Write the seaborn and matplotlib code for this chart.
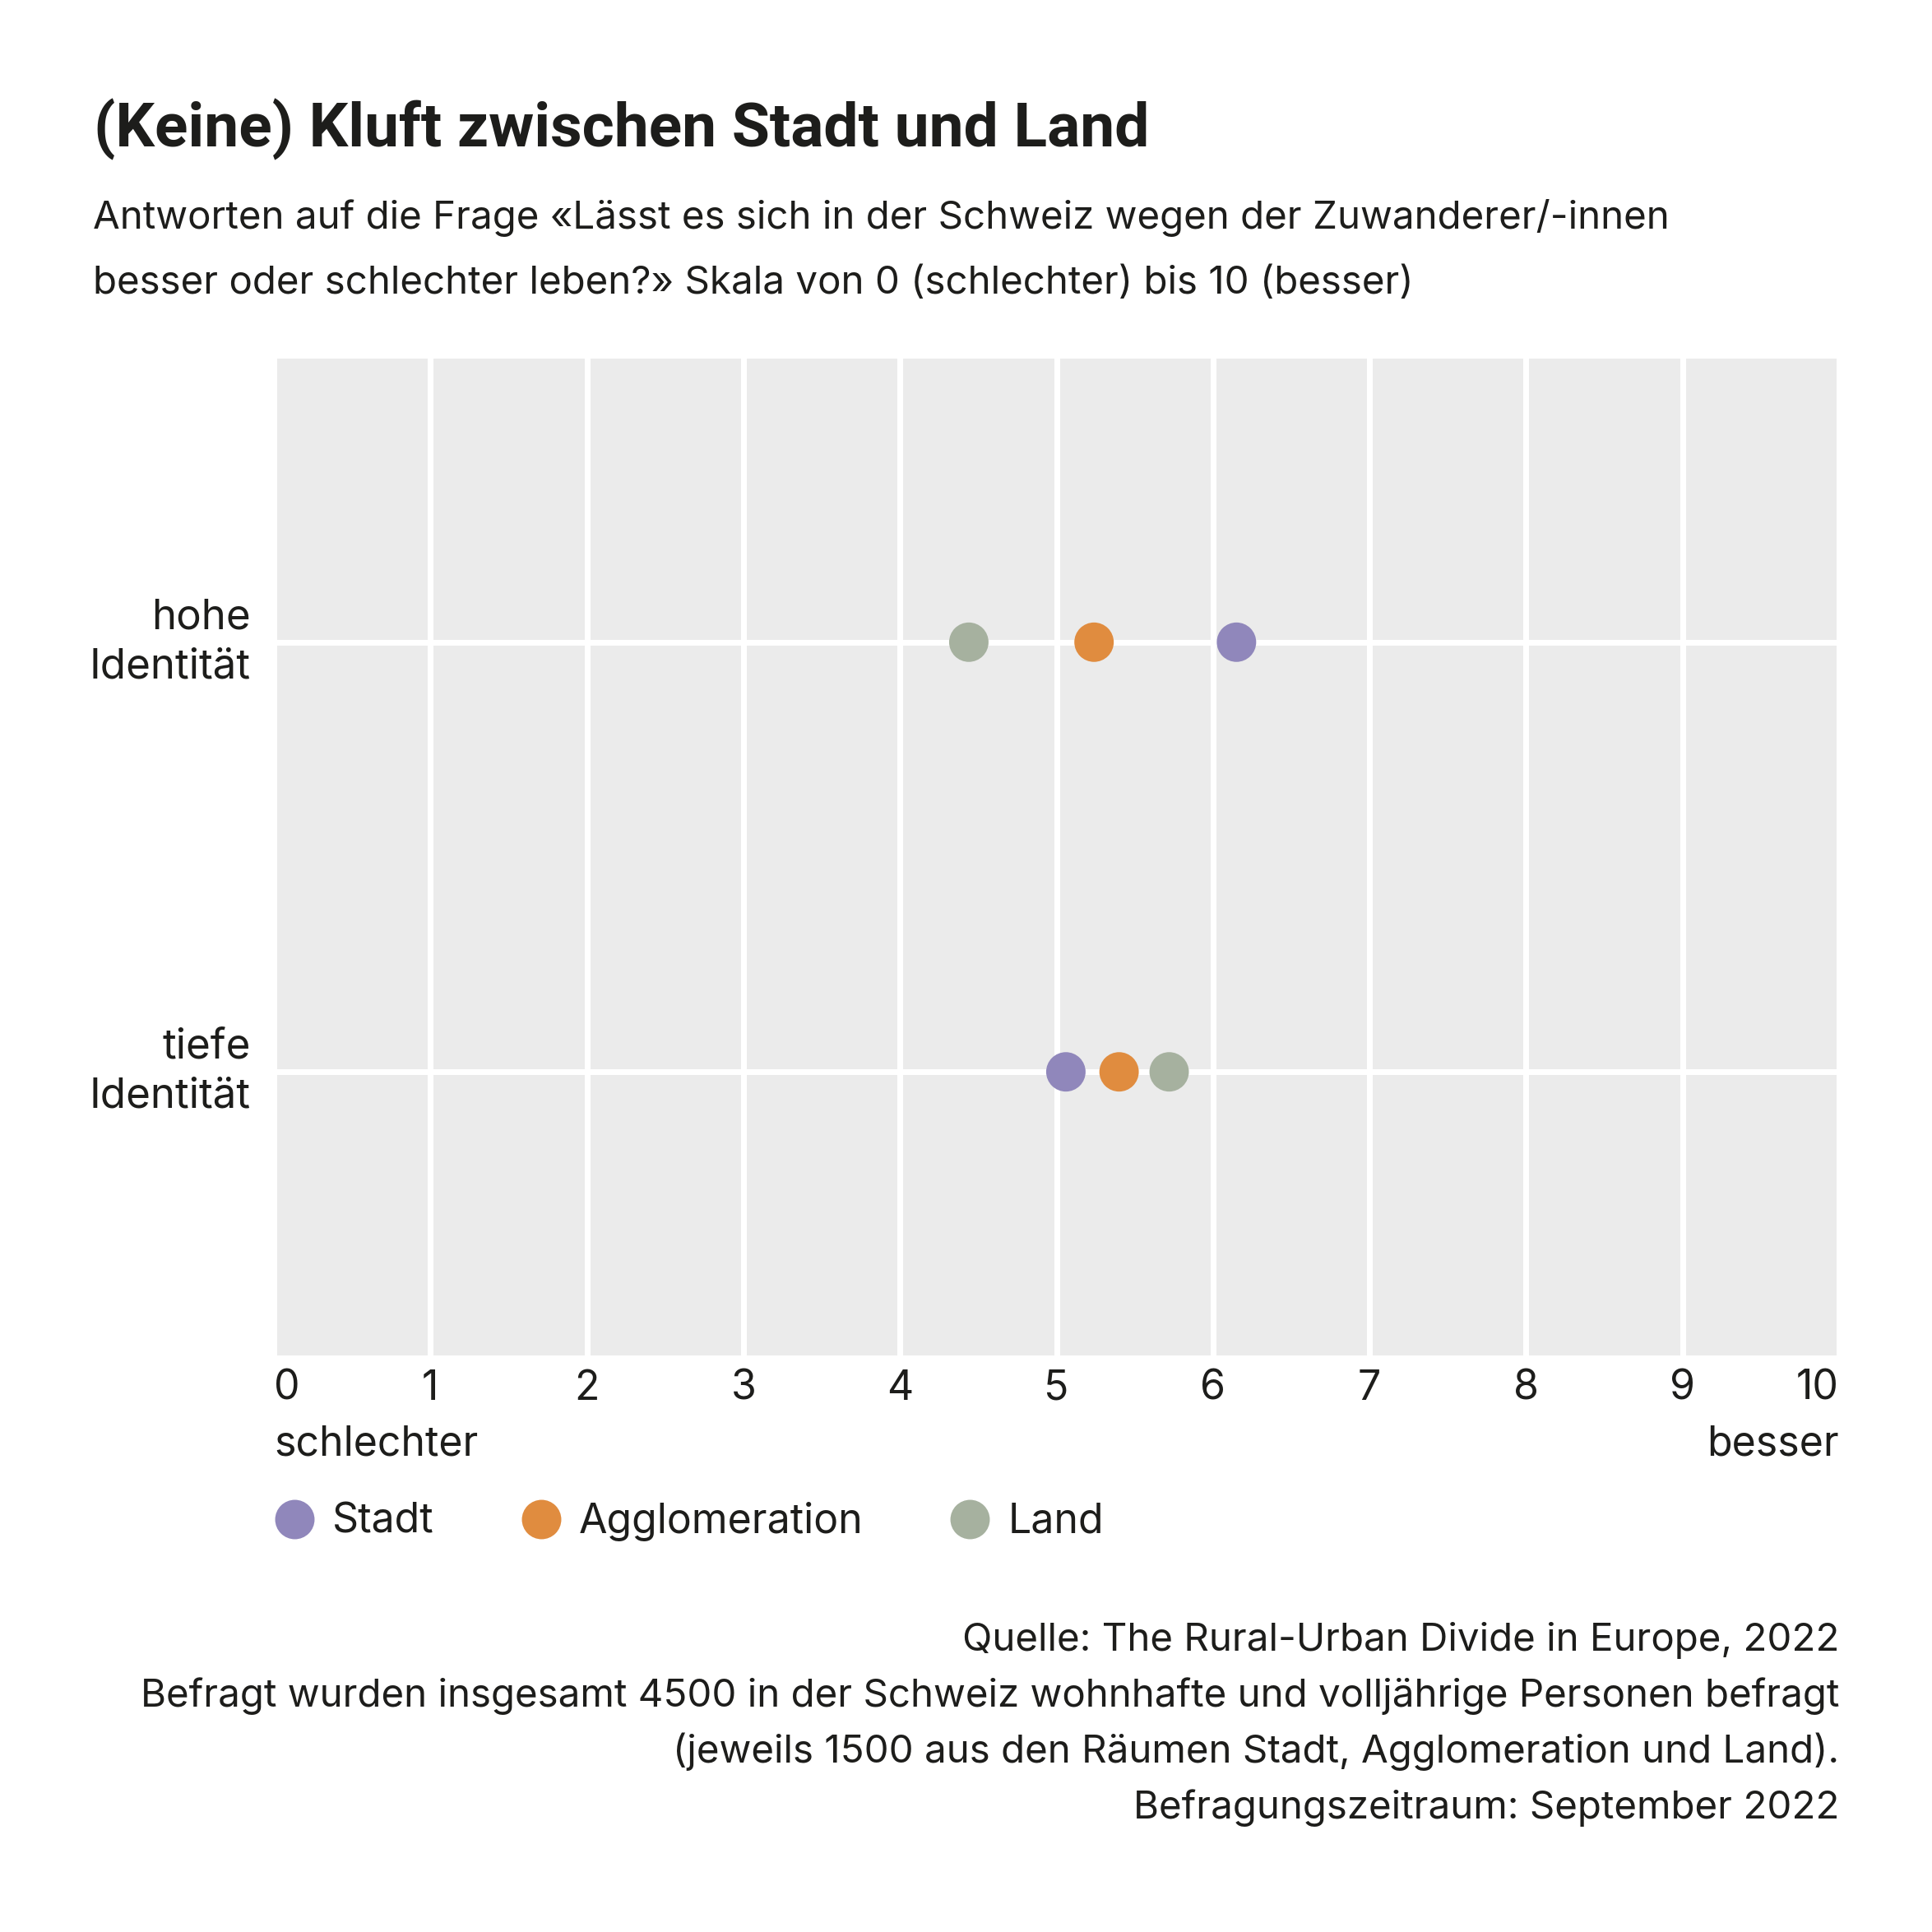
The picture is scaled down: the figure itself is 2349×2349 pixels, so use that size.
import matplotlib.pyplot as plt
import matplotlib.lines as mlines
import matplotlib.transforms as mtransforms
import pandas as pd
import seaborn as sns

# values (scale 0 = schlechter ... 10 = besser)
identity = ['hohe\nIdentität', 'tiefe\nIdentität']
regions = ['Stadt', 'Agglomeration', 'Land']
stadt = [6.15, 5.06]
agglo = [5.24, 5.40]
land = [4.44, 5.72]
colors = ['#9087BB', '#E08C3F', '#A6B19F']
x_ticks = list(range(0, 11))

title = '(Keine) Kluft zwischen Stadt und Land'
subtitle = ['Antworten auf die Frage «Lässt es sich in der Schweiz wegen der Zuwanderer/-innen',
            'besser oder schlechter leben?» Skala von 0 (schlechter) bis 10 (besser)']
footer = ['Quelle: The Rural-Urban Divide in Europe, 2022',
          'Befragt wurden insgesamt 4500 in der Schweiz wohnhafte und volljährige Personen befragt',
          '(jeweils 1500 aus den Räumen Stadt, Agglomeration und Land).',
          'Befragungszeitraum: September 2022']

df = pd.DataFrame({
    'identity': identity * 3,
    'region': [r for r in regions for _ in identity],
    'value': stadt + agglo + land,
})

sns.set_style('darkgrid', {'axes.facecolor': '#EBEBEB', 'grid.color': 'white'})
plt.rcParams['font.family'] = ['Inter', 'DejaVu Sans']
txt = '#1d1d1b'
W = 2349
L, R, T, B = 333, 2236, 436, 1648   # plot box in pixels

fig = plt.figure(figsize=(W / 150, W / 150), dpi=150)
fig.patch.set_facecolor('white')
ax = fig.add_axes([L / W, 1 - B / W, (R - L) / W, (B - T) / W])

sns.stripplot(data=df, x='value', y='identity', hue='region',
              order=identity, hue_order=regions, palette=colors,
              jitter=False, size=23, linewidth=0, ax=ax, legend=False, zorder=3)

ax.set_xlim(0, 10)
ax.set_ylim(1.66, -0.66)
ax.set_xticks(x_ticks)
ax.set_xticklabels([str(t) for t in x_ticks])
ax.grid(True, color='white', linewidth=3.4)
ax.set_axisbelow(True)
for s in ax.spines.values():
    s.set_visible(False)
ax.set_xlabel('')
ax.set_ylabel('')
ax.tick_params(axis='x', length=0, pad=8, labelsize=24, labelcolor=txt)
ax.tick_params(axis='y', length=0, pad=13.5, labelsize=24.5, labelcolor=txt)
xl = ax.get_xticklabels()
xl[0].set_ha('left')
xl[-1].set_ha('right')
# nudge the two-line row labels up so they sit centred on their grid line
lift = mtransforms.ScaledTranslation(0, 5.5 / 72, fig.dpi_scale_trans)
for lab in ax.get_yticklabels():
    lab.set_linespacing(1.35)
    lab.set_transform(lab.get_transform() + lift)

# end labels of the scale
fig.text(L / W, 1 - 1769 / W, 'schlechter', fontsize=24, color=txt, va='baseline', ha='left')
fig.text(R / W, 1 - 1769 / W, 'besser', fontsize=24, color=txt, va='baseline', ha='right')

# legend
handles = [mlines.Line2D([], [], marker='o', linestyle='', markersize=23,
                         markerfacecolor=c, markeredgewidth=0, label=r)
           for r, c in zip(regions, colors)]
fig.legend(handles=handles, loc='center left', bbox_to_anchor=(L / W, 1 - 1850 / W),
           ncol=3, frameon=False, fontsize=24, handlelength=1.0, handletextpad=0.42,
           columnspacing=2.1, borderpad=0, borderaxespad=0, labelcolor=txt)

# title block
fig.text(114 / W, 1 - 178 / W, title, fontsize=36, fontweight='bold', color=txt,
         va='baseline', family=['Roboto', 'DejaVu Sans'])
for i, line in enumerate(subtitle):
    fig.text(113 / W, 1 - (278 + 79 * i) / W, line, fontsize=22.8, color=txt, va='baseline')

# footer
for i, line in enumerate(footer):
    fig.text(R / W, 1 - (2007 + 68 * i) / W, line, fontsize=22.8, color=txt,
             va='baseline', ha='right')

fig.savefig('out.png', dpi=150)
